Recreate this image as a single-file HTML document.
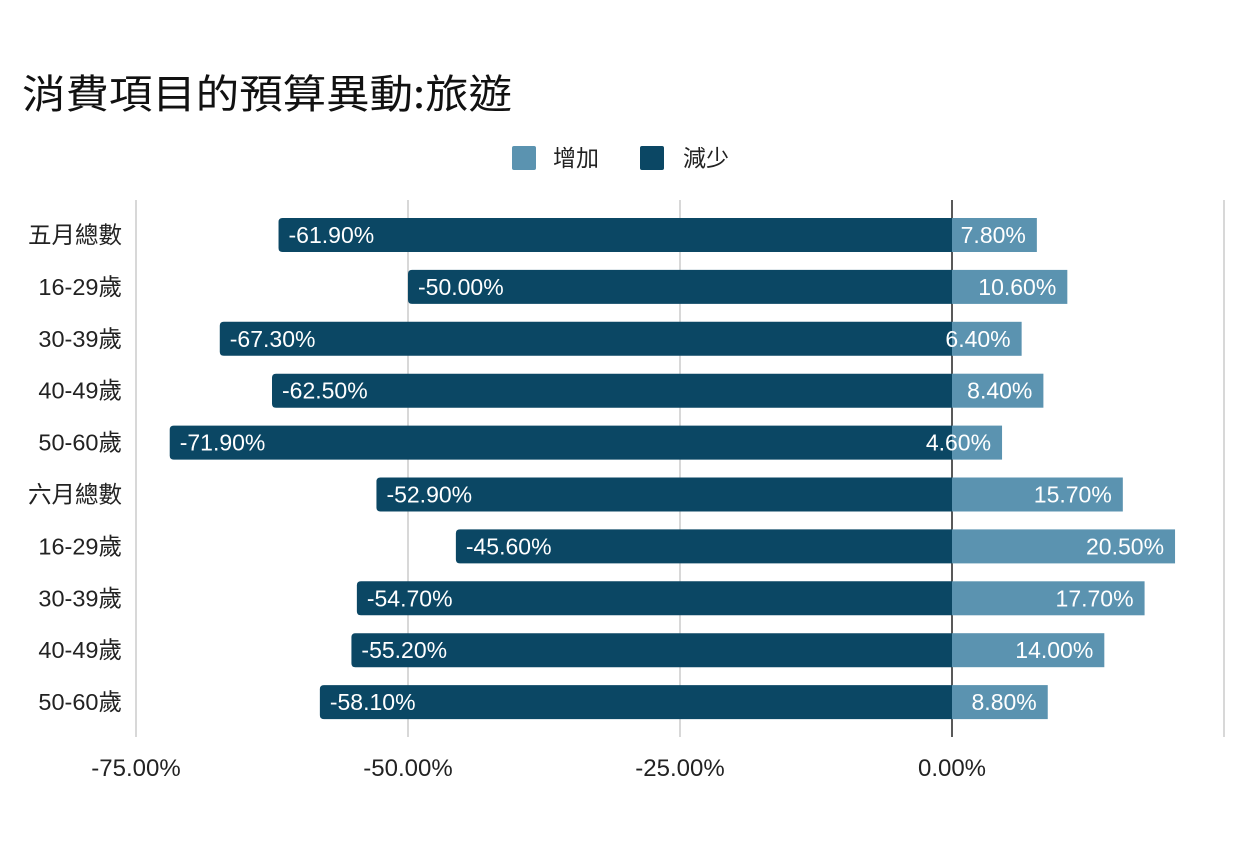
<!DOCTYPE html>
<html><head><meta charset="utf-8"><style>
html,body{margin:0;padding:0;background:#fff;}
svg{display:block;font-family:"Liberation Sans","Noto Sans CJK TC",sans-serif;}
</style></head><body>
<svg width="1259" height="844" viewBox="0 0 1259 844">
<text x="22" y="108" font-size="40" textLength="490" lengthAdjust="spacingAndGlyphs" fill="#111" font-family="Noto Sans CJK TC, sans-serif">消費項目的預算異動:旅遊</text>
<rect x="512" y="146" width="24" height="24" rx="2" fill="#5b93b0"/>
<text x="553" y="166" font-size="23" fill="#222" font-family="Noto Sans CJK TC, sans-serif">增加</text>
<rect x="640" y="146" width="24" height="24" rx="2" fill="#0b4764"/>
<text x="683" y="166" font-size="23" fill="#222" font-family="Noto Sans CJK TC, sans-serif">減少</text>
<g stroke="#cccccc" stroke-width="1.5">
<line x1="136" y1="200" x2="136" y2="737"/>
<line x1="408" y1="200" x2="408" y2="737"/>
<line x1="680" y1="200" x2="680" y2="737"/>
<line x1="1224" y1="200" x2="1224" y2="737"/>
</g>
<line x1="952" y1="200" x2="952" y2="737" stroke="#222" stroke-width="1.5"/>
<g id="bars"></g>
<g font-size="24" fill="#222" text-anchor="middle">
<text x="136" y="776">-75.00%</text>
<text x="408" y="776">-50.00%</text>
<text x="680" y="776">-25.00%</text>
<text x="952" y="776">0.00%</text>
</g>
</svg>
<script>
var d=[["五月總數",61.9,7.8],["16-29歲",50,10.6],["30-39歲",67.3,6.4],["40-49歲",62.5,8.4],["50-60歲",71.9,4.6],["六月總數",52.9,15.7],["16-29歲",45.6,20.5],["30-39歲",54.7,17.7],["40-49歲",55.2,14.0],["50-60歲",58.1,8.8]];
var s="",z=952,k=10.88;
d.forEach(function(r,i){
var c=235+i*51.9,t=c-17;
var xl=z-r[1]*k,xr=z+r[2]*k;
s+='<path d="M'+(xl+4)+' '+t+'H'+z+'V'+(t+34)+'H'+(xl+4)+'Q'+xl+' '+(t+34)+' '+xl+' '+(t+30)+'V'+(t+4)+'Q'+xl+' '+t+' '+(xl+4)+' '+t+'Z" fill="#0b4764"/>';
s+='<rect x="'+z+'" y="'+t+'" width="'+(xr-z)+'" height="34" fill="#5b93b0"/>';
s+='<text x="'+(xl+10)+'" y="'+(c+8)+'" font-size="23" fill="#fff">-'+r[1].toFixed(2)+'%</text>';
s+='<text x="'+(xr-11)+'" y="'+(c+8)+'" font-size="23" fill="#fff" text-anchor="end">'+r[2].toFixed(2)+'%</text>';
s+='<text x="122" y="'+(c+8)+'" font-size="23.5" fill="#222" text-anchor="end" font-family="Liberation Sans, Noto Sans CJK TC, sans-serif">'+r[0]+'</text>';
});
document.getElementById("bars").innerHTML=s;
</script>
</body></html>
